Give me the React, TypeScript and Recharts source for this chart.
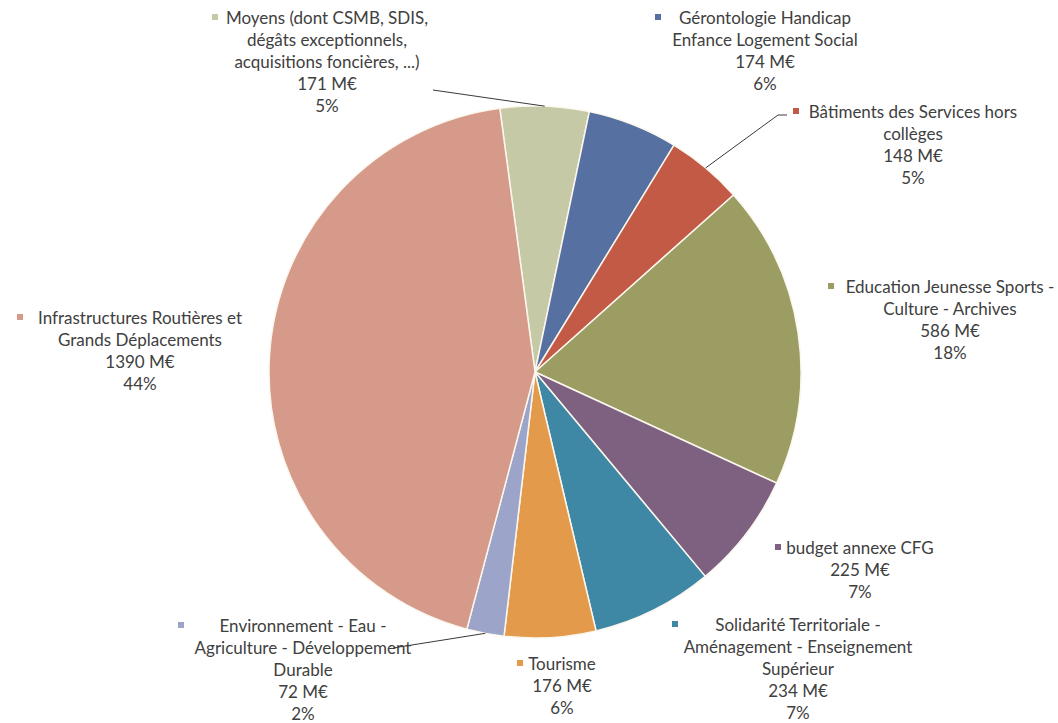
import React from 'react';
import { PieChart, Pie, Cell } from 'recharts';

const categories: string[] = [
  "Moyens (dont CSMB, SDIS,\ndégâts exceptionnels,\nacquisitions foncières, ...)",
  "Gérontologie Handicap\nEnfance Logement Social",
  "Bâtiments des Services hors\ncollèges",
  "Education Jeunesse Sports -\nCulture - Archives",
  "budget annexe CFG",
  "Solidarité Territoriale -\nAménagement - Enseignement\nSupérieur",
  "Tourisme",
  "Environnement - Eau -\nAgriculture - Développement\nDurable",
  "Infrastructures Routières et\nGrands Déplacements",
];
const values: number[] = [171, 174, 148, 586, 225, 234, 176, 72, 1390];
const percentLabels: string[] = ["5%", "6%", "5%", "18%", "7%", "7%", "6%", "2%", "44%"];
const colors: string[] = [
  "#c5c9a5", "#5671a1", "#c35a45", "#9b9d63", "#7e6181",
  "#3f88a5", "#e39a4b", "#9ca5c9", "#d59a89",
];

const data = categories.map((c, i) => ({ name: c, value: values[i] }));

// label layout (offsets relative to pie centre)
type Layout = { dx: number; dy: number; markerDx: number; leader?: [number, number][] };
const labelLayout: Layout[] = [
  { dx: -208, dy: -355, markerDx: -112, leader: [[-102, -282]] },
  { dx: 230, dy: -355, markerDx: -107 },
  { dx: 378, dy: -261, markerDx: -117, leader: [[252, -257], [243, -257]] },
  { dx: 415, dy: -86, markerDx: -119 },
  { dx: 325, dy: 175, markerDx: -82 },
  { dx: 263, dy: 252, markerDx: -123 },
  { dx: 27, dy: 291, markerDx: -42 },
  { dx: -232, dy: 253, markerDx: -122, leader: [[-142, 276]] },
  { dx: -395, dy: -55, markerDx: -120 },
];

const LH = 22;

const renderLabel = (props: any) => {
  const { cx, cy, midAngle, outerRadius, index } = props;
  const L = labelLayout[index];
  const x = cx + L.dx;
  const y = cy + L.dy;
  const lines = [...categories[index].split("\n"), `${values[index]} M€`, percentLabels[index]];
  const RAD = Math.PI / 180;
  const ax = cx + outerRadius * Math.cos(-midAngle * RAD);
  const ay = cy + outerRadius * Math.sin(-midAngle * RAD);
  const pts = L.leader ? [...L.leader.map(([px, py]) => [cx + px, cy + py]), [ax, ay]] : null;
  return (
    <g key={`lbl-${index}`}>
      {pts && (
        <polyline
          points={pts.map((p) => p.join(',')).join(' ')}
          fill="none"
          stroke="#3a3a3a"
          strokeWidth={1}
        />
      )}
      <rect x={x + L.markerDx - 3} y={y - 3} width={6} height={6} fill={colors[index]} />
      {lines.map((t, i) => (
        <text
          key={i}
          x={x}
          y={y + i * LH}
          textAnchor="middle"
          dominantBaseline="central"
          fontFamily="Lato, 'Open Sans', sans-serif"
          fontSize={17}
          fill="#404040"
        >
          {t}
        </text>
      ))}
    </g>
  );
};

export default function App() {
  return (
    <div style={{ position: 'absolute', left: 0, top: 0, width: 1058, height: 723, background: '#ffffff' }}>
      <PieChart width={1058} height={723}>
        <Pie
          data={data}
          dataKey="value"
          nameKey="name"
          cx={530}
          cy={367}
          outerRadius={266}
          startAngle={97.6}
          endAngle={-262.4}
          stroke="#fbf7ee"
          strokeWidth={1.5}
          label={renderLabel}
          labelLine={false}
          isAnimationActive={false}
        >
          {data.map((d, i) => (
            <Cell key={i} fill={colors[i]} />
          ))}
        </Pie>
      </PieChart>
    </div>
  );
}
